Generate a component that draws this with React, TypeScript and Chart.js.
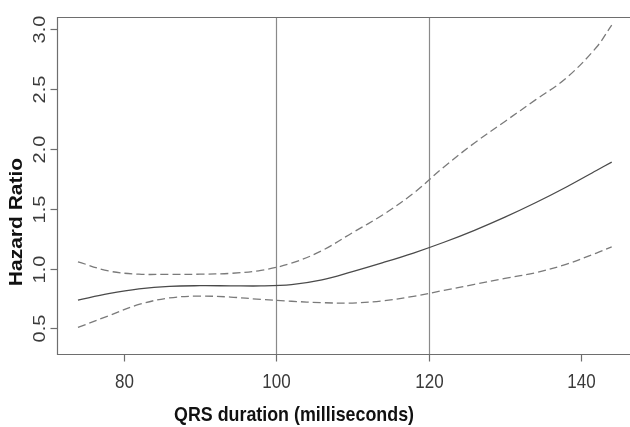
import React, { useEffect, useRef } from "react";
import { Chart, registerables } from "chart.js";

Chart.register(...registerables);

// QRS duration (ms) sampled along the curves
const qrs = [74, 78, 82, 86, 90, 94, 98, 102, 106, 110, 114, 118, 122, 126, 130, 134, 138, 142, 144];
// Hazard ratio estimate
const hazard = [0.737, 0.79, 0.83, 0.852, 0.857, 0.856, 0.855, 0.866, 0.905, 0.975, 1.05, 1.13, 1.22, 1.32, 1.43, 1.55, 1.68, 1.82, 1.89];
// Upper confidence bound
const upper = [1.057, 0.98, 0.953, 0.952, 0.953, 0.96, 0.985, 1.045, 1.15, 1.3, 1.45, 1.63, 1.85, 2.05, 2.23, 2.41, 2.59, 2.85, 3.036];
// Lower confidence bound
const lower = [0.508, 0.605, 0.7, 0.755, 0.77, 0.762, 0.742, 0.727, 0.715, 0.712, 0.73, 0.768, 0.818, 0.868, 0.918, 0.965, 1.035, 1.13, 1.182];

const xTicks = [80, 100, 120, 140];
const yTicks = [0.5, 1.0, 1.5, 2.0, 2.5, 3.0];
const refLines = [100, 120];

const xTitle = "QRS duration (milliseconds)";
const yTitle = "Hazard Ratio";

const SX = 0.85;
const FONT = '"Liberation Sans", Arial, Helvetica, sans-serif';

function drawText(
  ctx: CanvasRenderingContext2D,
  s: string,
  x: number,
  y: number,
  rot: number,
  font: string,
  color: string
) {
  ctx.save();
  ctx.translate(x, y);
  ctx.scale(SX, 1);
  ctx.rotate(rot);
  ctx.font = font;
  ctx.fillStyle = color;
  ctx.textAlign = "center";
  ctx.textBaseline = "alphabetic";
  ctx.fillText(s, 0, 0);
  ctx.restore();
}

const rPlot = {
  id: "rPlot",
  beforeDatasetsDraw(chart: any) {
    const { ctx, chartArea } = chart;
    const xs = chart.scales.x;
    ctx.save();
    ctx.strokeStyle = "#8a8a8a";
    ctx.lineWidth = 1.2;
    refLines.forEach((v) => {
      const px = Math.round(xs.getPixelForValue(v)) + 0.5;
      ctx.beginPath();
      ctx.moveTo(px, chartArea.top);
      ctx.lineTo(px, chartArea.bottom);
      ctx.stroke();
    });
    ctx.restore();
  },
  afterDraw(chart: any) {
    const { ctx, chartArea } = chart;
    const xs = chart.scales.x;
    const ys = chart.scales.y;
    const L = chartArea.left + 0.5;
    const T = chartArea.top + 0.5;
    const B = chartArea.bottom + 0.5;
    const R = chartArea.right + 2;
    ctx.save();
    ctx.strokeStyle = "#6e6e6e";
    ctx.lineWidth = 1.2;
    ctx.beginPath();
    ctx.moveTo(R, T);
    ctx.lineTo(L, T);
    ctx.lineTo(L, B);
    ctx.lineTo(R, B);
    ctx.stroke();
    // x ticks
    xTicks.forEach((v) => {
      const px = Math.round(xs.getPixelForValue(v)) + 0.5;
      ctx.beginPath();
      ctx.moveTo(px, B);
      ctx.lineTo(px, B + 7);
      ctx.stroke();
      drawText(ctx, String(v), px, B + 33, 0, `20px ${FONT}`, "#3a3a3a");
    });
    // y ticks
    yTicks.forEach((v) => {
      const py = Math.round(ys.getPixelForValue(v)) + 0.5;
      ctx.beginPath();
      ctx.moveTo(L, py);
      ctx.lineTo(L - 7, py);
      ctx.stroke();
      drawText(ctx, v.toFixed(1), 45, py, -Math.PI / 2, `20px ${FONT}`, "#3a3a3a");
    });
    ctx.restore();
    drawText(ctx, xTitle, 294, 421, 0, `bold 21px ${FONT}`, "#111");
    drawText(ctx, yTitle, 22, 222, -Math.PI / 2, `bold 21px ${FONT}`, "#111");
  },
};

export default function App() {
  const ref = useRef<HTMLCanvasElement | null>(null);
  useEffect(() => {
    if (!ref.current) return;
    const mk = (ys: number[]) => qrs.map((x, i) => ({ x, y: ys[i] }));
    const common = { pointRadius: 0, borderWidth: 1.3, tension: 0.35 };
    const chart = new Chart(ref.current, {
      type: "line",
      data: {
        datasets: [
          { label: "upper", data: mk(upper), borderColor: "#7a7a7a", borderDash: [8, 4], ...common },
          { label: "HR", data: mk(hazard), borderColor: "#4a4a4a", ...common },
          { label: "lower", data: mk(lower), borderColor: "#7a7a7a", borderDash: [8, 4], ...common },
        ],
      },
      options: {
        responsive: false,
        animation: false,
        layout: { padding: { left: 57, top: 17, right: 0, bottom: 73 } },
        plugins: { legend: { display: false }, tooltip: { enabled: false } },
        scales: {
          x: { type: "linear", display: false, min: 71.25, max: 146.4 },
          y: { type: "linear", display: false, min: 0.286, max: 3.103 },
        },
      },
      plugins: [rPlot],
    });
    return () => chart.destroy();
  }, []);
  return (
    <div style={{ position: "fixed", left: 0, top: 0, width: 630, height: 427, background: "#fff" }}>
      <canvas ref={ref} width={630} height={427} style={{ display: "block" }} />
    </div>
  );
}
